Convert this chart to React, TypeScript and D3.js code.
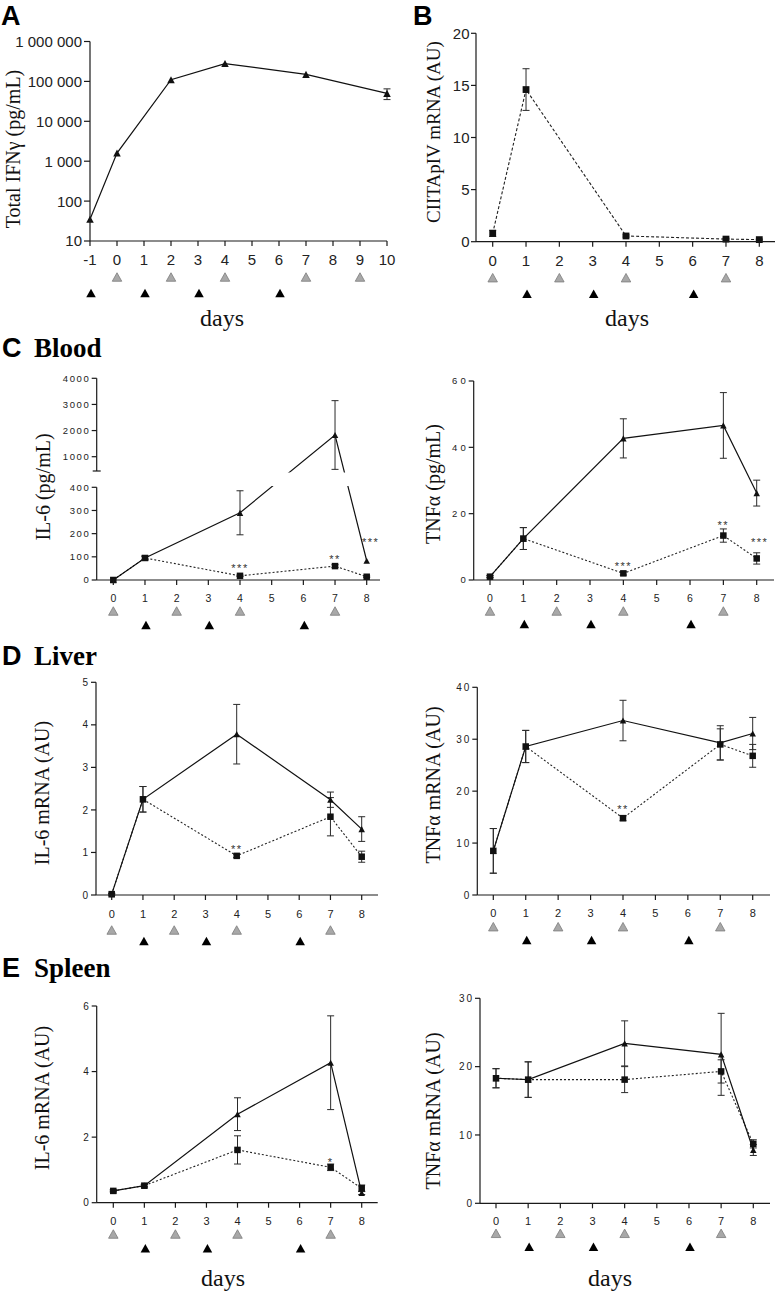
import React from "react";
import * as d3 from "d3";

// ================= DATA =================
// Panel A – total IFNγ (log scale)
const daysA = [-1, 0, 2, 4, 7, 10];
const ifngMean = [35, 1600, 110000, 280000, 150000, 50000];
const ifngSem = [0, 0, 0, 0, 0, 15000];
const dayTicksA = [-1, 0, 1, 2, 3, 4, 5, 6, 7, 8, 9, 10];
const ifngTicks = [10, 100, 1000, 10000, 100000, 1000000];
const ifngTickLabels = ["10", "100", "1 000", "10 000", "100 000", "1 000 000"];
const grayDaysA = [0, 2, 4, 7, 9];
const blackDaysA = [-1, 1, 3, 6];

// Shared days for B–E
const daysCE = [0, 1, 4, 7, 8];
const dayTicks = [0, 1, 2, 3, 4, 5, 6, 7, 8];
const grayDays = [0, 2, 4, 7];
const blackDays = [1, 3, 6];

// Panel B – CIITApIV mRNA
const ciitaMean = [0.8, 14.6, 0.55, 0.25, 0.2];
const ciitaSem = [0.3, 2.0, 0.1, 0.08, 0.05];
const ciitaTicks = [0, 5, 10, 15, 20];

// Panel C – Blood
const il6BloodTri = [0, 95, 290, 1830, 83];
const il6BloodTriSem = [0, 8, 95, 1315, 0];
const il6BloodSq = [0, 95, 18, 60, 14];
const il6BloodSqSem = [0, 8, 3, 6, 3];
const il6BloodLowTicks = [0, 100, 200, 300, 400];
const il6BloodHighTicks = [1000, 2000, 3000, 4000];

const tnfBloodTri = [1, 12.5, 42.7, 46.6, 26.2];
const tnfBloodTriSem = [0.3, 3.3, 5.9, 9.9, 3.9];
const tnfBloodSq = [1, 12.5, 2.0, 13.4, 6.5];
const tnfBloodSqSem = [0.3, 3.3, 0.5, 2.0, 1.7];
const tnfBloodTicks = [0, 20, 40, 60];

// Panel D – Liver
const il6LiverTri = [0.02, 2.25, 3.78, 2.24, 1.55];
const il6LiverTriSem = [0.02, 0.3, 0.7, 0.18, 0.29];
const il6LiverSq = [0.02, 2.25, 0.92, 1.84, 0.9];
const il6LiverSqSem = [0.02, 0.3, 0.04, 0.45, 0.13];
const il6LiverTicks = [0, 1, 2, 3, 4, 5];

const tnfLiverTri = [8.5, 28.6, 33.6, 29.3, 31.1];
const tnfLiverTriSem = [4.3, 3.1, 3.9, 3.3, 3.1];
const tnfLiverSq = [8.5, 28.6, 14.8, 29.0, 26.8];
const tnfLiverSqSem = [4.3, 3.1, 0.5, 3.0, 2.2];
const tnfLiverTicks = [0, 10, 20, 30, 40];

// Panel E – Spleen
const il6SpleenTri = [0.36, 0.52, 2.7, 4.27, 0.3];
const il6SpleenTriSem = [0.03, 0.04, 0.5, 1.43, 0.05];
const il6SpleenSq = [0.36, 0.52, 1.61, 1.08, 0.44];
const il6SpleenSqSem = [0.03, 0.04, 0.43, 0.1, 0.1];
const il6SpleenTicks = [0, 2, 4, 6];

const tnfSpleenTri = [18.3, 18.1, 23.4, 21.8, 7.8];
const tnfSpleenTriSem = [1.4, 2.6, 3.3, 6.0, 0.8];
const tnfSpleenSq = [18.3, 18.1, 18.1, 19.3, 8.7];
const tnfSpleenSqSem = [1.4, 2.6, 1.9, 1.7, 0.6];
const tnfSpleenTicks = [0, 10, 20, 30];

// ================= STYLE =================
const SANS = "Arial, 'Liberation Sans', Helvetica, sans-serif";
const SERIF = "'Times New Roman', 'Liberation Serif', Times, serif";
const AXIS = "#1a1a1a";

type Series = { days: number[]; mean: number[]; sem: number[] };
type Star = { day: number; s: "tri" | "sq"; text: string; gap: number; dx: number };
type Seg = { scale: (v: number) => number; lo: number; hi: number; ticks: number[]; labels: string[] };

interface Cfg {
  axisX: number;
  axisY: number;
  xEnd: number;
  dayDomain: [number, number];
  dayRange: [number, number];
  ticks: number[];
  segs: Seg[];
  yFn: (v: number) => number;
  yTickFont: number;
  yTickLS: number;
  yTickLen: number;
  yTickGap: number;
  xTickFont: number;
  xLabelDy: number;
  gray: number[];
  black: number[];
  grayDy: number;
  blackDy: number;
  ylabel: string;
  ylabelX: number;
  ylabelY: number;
  ylabelSize: number;
  tri?: Series;
  sq?: Series;
  triW: number;
  sqW: number;
  sqDash: string;
  stars: Star[];
  breakBand?: [number, number];
  breakMarks?: number[];
}

const trianglePath = (cx: number, cy: number, w: number, h: number) =>
  `M${cx},${cy - h / 2}L${cx + w / 2},${cy + h / 2}L${cx - w / 2},${cy + h / 2}Z`;

function Panel({ c }: { c: Cfg }) {
  const x = d3.scaleLinear().domain(c.dayDomain).range(c.dayRange);
  const line = d3.line<[number, number]>();
  const pts = (s: Series) => s.days.map((d, i) => [x(d), c.yFn(s.mean[i])] as [number, number]);

  const errBars = (s: Series, key: string) =>
    s.days.map((d, i) => {
      if (!s.sem[i]) return null;
      const cx = x(d);
      const y1 = c.yFn(s.mean[i] + s.sem[i]);
      const y2 = c.yFn(Math.max(s.mean[i] - s.sem[i], 1e-9));
      return (
        <g key={key + i} stroke="#2a2a2a" strokeWidth={1}>
          <line x1={cx} x2={cx} y1={y1} y2={y2} />
          <line x1={cx - 3.5} x2={cx + 3.5} y1={y1} y2={y1} />
          <line x1={cx - 3.5} x2={cx + 3.5} y1={y2} y2={y2} />
        </g>
      );
    });

  return (
    <g>
      {/* error bars */}
      {c.tri && errBars(c.tri, "te")}
      {c.sq && errBars(c.sq, "se")}
      {/* lines */}
      {c.sq && (
        <path d={line(pts(c.sq)) || ""} fill="none" stroke="#222" strokeWidth={1.1} strokeDasharray={c.sqDash} />
      )}
      {c.tri && <path d={line(pts(c.tri)) || ""} fill="none" stroke="#111" strokeWidth={1.2} />}
      {/* axis break band */}
      {c.breakBand && (
        <rect
          x={c.axisX + 1.5}
          y={c.breakBand[0]}
          width={c.xEnd - c.axisX}
          height={c.breakBand[1] - c.breakBand[0]}
          fill="#fff"
        />
      )}
      {/* markers */}
      {c.tri &&
        pts(c.tri).map(([px, py], i) => (
          <path key={"tm" + i} d={trianglePath(px, py, c.triW, c.triW * 0.95)} fill="#111" />
        ))}
      {c.sq &&
        pts(c.sq).map(([px, py], i) => (
          <rect key={"sm" + i} x={px - c.sqW / 2} y={py - c.sqW / 2} width={c.sqW} height={c.sqW} fill="#111" />
        ))}
      {/* stars */}
      {c.stars.map((st, i) => {
        const s = st.s === "tri" ? c.tri! : c.sq!;
        const idx = s.days.indexOf(st.day);
        const cy = c.yFn(s.mean[idx]) - st.gap;
        return (
          <text
            key={"st" + i}
            x={x(st.day) + st.dx}
            y={cy + 6.3}
            textAnchor="middle"
            fontFamily={SANS}
            fontSize={11}
            letterSpacing={1.5}
            fill="#333"
          >
            {st.text}
          </text>
        );
      })}
      {/* y axis segments */}
      {c.segs.map((sg, si) => (
        <g key={"seg" + si}>
          <line x1={c.axisX} x2={c.axisX} y1={sg.scale(sg.lo)} y2={sg.scale(sg.hi)} stroke={AXIS} strokeWidth={1.2} />
          {sg.ticks.map((t, i) => (
            <g key={"yt" + i}>
              <line
                x1={c.axisX - c.yTickLen}
                x2={c.axisX}
                y1={sg.scale(t)}
                y2={sg.scale(t)}
                stroke={AXIS}
                strokeWidth={1.2}
              />
              <text
                x={c.axisX - c.yTickLen - c.yTickGap + c.yTickLS}
                y={sg.scale(t)}
                dy="0.36em"
                textAnchor="end"
                fontFamily={SANS}
                fontSize={c.yTickFont}
                letterSpacing={c.yTickLS}
                fill="#222"
              >
                {sg.labels[i]}
              </text>
            </g>
          ))}
        </g>
      ))}
      {c.breakMarks &&
        c.breakMarks.map((by, i) => (
          <line key={"bm" + i} x1={c.axisX - 4} x2={c.axisX + 4} y1={by} y2={by} stroke={AXIS} strokeWidth={1.2} />
        ))}
      {/* x axis */}
      <line x1={c.axisX} x2={c.xEnd} y1={c.axisY} y2={c.axisY} stroke={AXIS} strokeWidth={1.2} />
      {c.ticks.map((d) => (
        <g key={"xt" + d}>
          <line x1={x(d)} x2={x(d)} y1={c.axisY} y2={c.axisY + 5} stroke={AXIS} strokeWidth={1.2} />
          <text
            x={x(d)}
            y={c.axisY + c.xLabelDy}
            textAnchor="middle"
            fontFamily={SANS}
            fontSize={c.xTickFont}
            fill="#222"
          >
            {d}
          </text>
        </g>
      ))}
      {/* treatment triangles */}
      {c.gray.map((d) => (
        <path
          key={"g" + d}
          d={trianglePath(x(d), c.axisY + c.grayDy, 9.5, 8.5)}
          fill="#a8a8a8"
          stroke="#7c7c7c"
          strokeWidth={0.8}
        />
      ))}
      {c.black.map((d) => (
        <path key={"b" + d} d={trianglePath(x(d) + 1, c.axisY + c.blackDy, 9.5, 8.5)} fill="#000" />
      ))}
      {/* y label */}
      <text
        transform={`translate(${c.ylabelX},${c.ylabelY}) rotate(-90)`}
        textAnchor="middle"
        dy="0.35em"
        fontFamily={SERIF}
        fontSize={c.ylabelSize}
        fill="#111"
      >
        {c.ylabel}
      </text>
    </g>
  );
}

const common = {
  yTickLen: 5,
  yTickGap: 3,
  triW: 6.5,
  sqW: 6.5,
  sqDash: "2,2",
  ylabelSize: 20,
  gray: grayDays,
  black: blackDays,
  ticks: dayTicks,
  dayDomain: [0, 8] as [number, number],
};

const lin = (dom: [number, number], rng: [number, number]) => d3.scaleLinear().domain(dom).range(rng);

// ---------- panel configs ----------
const yA = d3.scaleLog().domain([10, 1000000]).range([241, 41.5]);
const cfgA: Cfg = {
  ...common,
  axisX: 90,
  axisY: 241,
  xEnd: 387,
  dayDomain: [-1, 10],
  dayRange: [90, 387],
  ticks: dayTicksA,
  segs: [{ scale: yA, lo: 10, hi: 1000000, ticks: ifngTicks, labels: ifngTickLabels }],
  yFn: yA,
  yTickFont: 15,
  yTickLS: 0,
  yTickLen: 6,
  yTickGap: 2,
  xTickFont: 15,
  xLabelDy: 24,
  gray: grayDaysA,
  black: blackDaysA,
  grayDy: 36,
  blackDy: 52,
  ylabel: "Total IFNγ (pg/mL)",
  ylabelX: 13,
  ylabelY: 149,
  tri: { days: daysA, mean: ifngMean, sem: ifngSem },
  triW: 7.5,
  stars: [],
};

const yB = lin([0, 20], [241.7, 33.3]);
const cfgB: Cfg = {
  ...common,
  axisX: 476,
  axisY: 241.7,
  xEnd: 775,
  dayRange: [492.7, 759.3],
  segs: [{ scale: yB, lo: 0, hi: 20, ticks: ciitaTicks, labels: ciitaTicks.map(String) }],
  yFn: yB,
  yTickFont: 15,
  yTickLS: 0,
  yTickLen: 5,
  yTickGap: 1.5,
  xTickFont: 15,
  xLabelDy: 24,
  grayDy: 36,
  blackDy: 52,
  ylabel: "CIITApIV mRNA (AU)",
  ylabelX: 433,
  ylabelY: 132,
  ylabelSize: 19,
  sq: { days: daysCE, mean: ciitaMean, sem: ciitaSem },
  sqW: 6.8,
  sqDash: "3,2",
  stars: [],
};

const yCLlow = lin([0, 400], [580, 487.3]);
const yCLhigh = lin([1000, 4000], [456.7, 378.3]);
const yCL = (v: number) => (v <= 420 ? yCLlow(v) : yCLhigh(v));
const cfgCL: Cfg = {
  ...common,
  axisX: 96.7,
  axisY: 580,
  xEnd: 380,
  dayRange: [113.3, 366.7],
  segs: [
    { scale: yCLlow, lo: 0, hi: 400, ticks: il6BloodLowTicks, labels: il6BloodLowTicks.map(String) },
    { scale: yCLhigh, lo: 450, hi: 4000, ticks: il6BloodHighTicks, labels: il6BloodHighTicks.map(String) },
  ],
  yFn: yCL,
  yTickFont: 9.5,
  yTickLS: 1.6,
  xTickFont: 10.5,
  xLabelDy: 21.7,
  grayDy: 31,
  blackDy: 45,
  ylabel: "IL-6 (pg/mL)",
  ylabelX: 43,
  ylabelY: 487,
  tri: { days: daysCE, mean: il6BloodTri, sem: il6BloodTriSem },
  sq: { days: daysCE, mean: il6BloodSq, sem: il6BloodSqSem },
  stars: [
    { day: 4, s: "sq", text: "***", gap: 10, dx: 0 },
    { day: 7, s: "sq", text: "**", gap: 9.5, dx: 0 },
    { day: 8, s: "tri", text: "***", gap: 21, dx: 4 },
  ],
  breakBand: [472.5, 486],
  breakMarks: [471],
};

const yCR = lin([0, 60], [580, 381]);
const cfgCR: Cfg = {
  ...common,
  axisX: 473.7,
  axisY: 580,
  xEnd: 774,
  dayRange: [490, 756.7],
  segs: [{ scale: yCR, lo: 0, hi: 60, ticks: tnfBloodTicks, labels: tnfBloodTicks.map(String) }],
  yFn: yCR,
  yTickFont: 9.5,
  yTickLS: 3,
  xTickFont: 10.5,
  xLabelDy: 21.7,
  grayDy: 31,
  blackDy: 44,
  ylabel: "TNFα (pg/mL)",
  ylabelX: 433,
  ylabelY: 484,
  tri: { days: daysCE, mean: tnfBloodTri, sem: tnfBloodTriSem },
  sq: { days: daysCE, mean: tnfBloodSq, sem: tnfBloodSqSem },
  stars: [
    { day: 4, s: "sq", text: "***", gap: 10, dx: 0 },
    { day: 7, s: "sq", text: "**", gap: 12.4, dx: 0 },
    { day: 8, s: "sq", text: "***", gap: 19, dx: 3 },
  ],
};

const yDL = lin([0, 5], [895, 682.3]);
const cfgDL: Cfg = {
  ...common,
  axisX: 96,
  axisY: 895,
  xEnd: 378,
  dayRange: [111.7, 361.7],
  segs: [{ scale: yDL, lo: 0, hi: 5, ticks: il6LiverTicks, labels: il6LiverTicks.map(String) }],
  yFn: yDL,
  yTickFont: 10,
  yTickLS: 1.5,
  xTickFont: 11,
  xLabelDy: 23,
  grayDy: 35,
  blackDy: 46,
  ylabel: "IL-6 mRNA (AU)",
  ylabelX: 42,
  ylabelY: 793,
  tri: { days: daysCE, mean: il6LiverTri, sem: il6LiverTriSem },
  sq: { days: daysCE, mean: il6LiverSq, sem: il6LiverSqSem },
  stars: [{ day: 4, s: "sq", text: "**", gap: 9, dx: 0 }],
};

const yDR = lin([0, 40], [895, 687.3]);
const cfgDR: Cfg = {
  ...common,
  axisX: 477.3,
  axisY: 895,
  xEnd: 770,
  dayRange: [493.3, 752.7],
  segs: [{ scale: yDR, lo: 0, hi: 40, ticks: tnfLiverTicks, labels: tnfLiverTicks.map(String) }],
  yFn: yDR,
  yTickFont: 10,
  yTickLS: 2,
  xTickFont: 11,
  xLabelDy: 21.7,
  grayDy: 31.7,
  blackDy: 45,
  ylabel: "TNFα mRNA (AU)",
  ylabelX: 433,
  ylabelY: 785,
  tri: { days: daysCE, mean: tnfLiverTri, sem: tnfLiverTriSem },
  sq: { days: daysCE, mean: tnfLiverSq, sem: tnfLiverSqSem },
  stars: [{ day: 4, s: "sq", text: "**", gap: 11, dx: 0 }],
};

const yEL = lin([0, 6], [1202.7, 1006]);
const cfgEL: Cfg = {
  ...common,
  axisX: 96.7,
  axisY: 1202.7,
  xEnd: 377.7,
  dayRange: [113.3, 361.7],
  segs: [{ scale: yEL, lo: 0, hi: 6, ticks: il6SpleenTicks, labels: il6SpleenTicks.map(String) }],
  yFn: yEL,
  yTickFont: 10,
  yTickLS: 1.5,
  xTickFont: 11,
  xLabelDy: 22.3,
  grayDy: 31.3,
  blackDy: 45.6,
  ylabel: "IL-6 mRNA (AU)",
  ylabelX: 42,
  ylabelY: 1098,
  tri: { days: daysCE, mean: il6SpleenTri, sem: il6SpleenTriSem },
  sq: { days: daysCE, mean: il6SpleenSq, sem: il6SpleenSqSem },
  stars: [{ day: 7, s: "sq", text: "*", gap: 7.3, dx: 0 }],
};

const yER = lin([0, 30], [1203.3, 998.3]);
const cfgER: Cfg = {
  ...common,
  axisX: 480,
  axisY: 1203.3,
  xEnd: 770,
  dayRange: [496, 753.3],
  segs: [{ scale: yER, lo: 0, hi: 30, ticks: tnfSpleenTicks, labels: tnfSpleenTicks.map(String) }],
  yFn: yER,
  yTickFont: 10,
  yTickLS: 2,
  xTickFont: 11,
  xLabelDy: 21.7,
  grayDy: 30,
  blackDy: 43.4,
  ylabel: "TNFα mRNA (AU)",
  ylabelX: 433,
  ylabelY: 1111,
  tri: { days: daysCE, mean: tnfSpleenTri, sem: tnfSpleenTriSem },
  sq: { days: daysCE, mean: tnfSpleenSq, sem: tnfSpleenSqSem },
  stars: [],
};

function Title({ x, y, letter, word }: { x: number; y: number; letter: string; word?: string }) {
  return (
    <g>
      <text x={x} y={y} fontFamily={SANS} fontWeight="bold" fontSize={27} fill="#000">
        {letter}
      </text>
      {word && (
        <text x={x + 32} y={y} fontFamily={SERIF} fontWeight="bold" fontSize={27} fill="#000">
          {word}
        </text>
      )}
    </g>
  );
}

function Days({ x, y }: { x: number; y: number }) {
  return (
    <text x={x} y={y} textAnchor="middle" fontFamily={SERIF} fontSize={24} fill="#111">
      days
    </text>
  );
}

export default function App() {
  return (
    <div style={{ position: "absolute", left: 0, top: 0, width: 777, height: 1295, background: "#fff" }}>
      <svg width={777} height={1295} style={{ display: "block" }}>
        <rect width={777} height={1295} fill="#fff" />
        <Title x={1} y={25} letter="A" />
        <Title x={413} y={25} letter="B" />
        <Title x={2} y={357} letter="C" word="Blood" />
        <Title x={2} y={665} letter="D" word="Liver" />
        <Title x={2} y={977} letter="E" word="Spleen" />

        <Panel c={cfgA} />
        <Panel c={cfgB} />
        <Panel c={cfgCL} />
        <Panel c={cfgCR} />
        <Panel c={cfgDL} />
        <Panel c={cfgDR} />
        <Panel c={cfgEL} />
        <Panel c={cfgER} />

        <Days x={222} y={326} />
        <Days x={627} y={326} />
        <Days x={223} y={1286} />
        <Days x={610} y={1286} />
      </svg>
    </div>
  );
}
